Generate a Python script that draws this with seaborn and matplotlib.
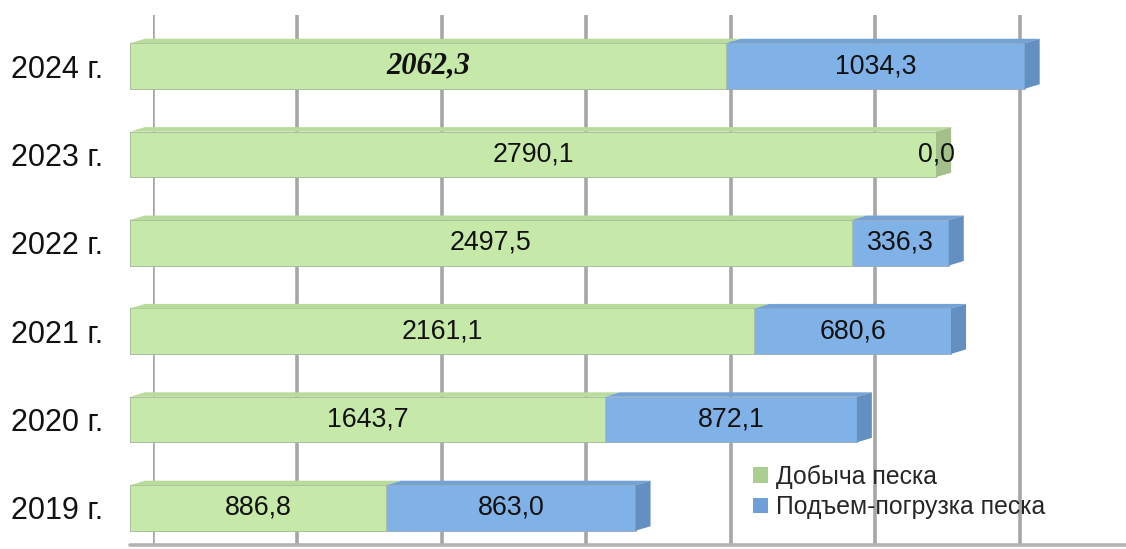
import matplotlib
matplotlib.use("Agg")
import matplotlib.pyplot as plt
import seaborn as sns
import numpy as np
from matplotlib.patches import Patch, Polygon
from matplotlib.lines import Line2D

# ---- data ----
years = ["2024 г.", "2023 г.", "2022 г.", "2021 г.", "2020 г.", "2019 г."]
dobycha = [2062.3, 2790.1, 2497.5, 2161.1, 1643.7, 886.8]
podem = [1034.3, 0.0, 336.3, 680.6, 872.1, 863.0]
series_names = ["Добыча песка", "Подъем-погрузка песка"]
grid_ticks = [0, 500, 1000, 1500, 2000, 2500, 3000]

totals = [a + b for a, b in zip(dobycha, podem)]

sns.set_theme(style="white")
plt.rcParams['font.family'] = ['Liberation Sans', 'DejaVu Sans']

W, H = 1126, 549
fig = plt.figure(figsize=(W / 100, H / 100), dpi=100)

green = "#c6e9aa"
green_side = "#a3c08a"
green_top = "#b9dc9c"
blue = "#80b2e8"
blue_side = "#6390c0"
blue_top = "#73a3d6"
grid_col = "#a6a6a6"

XMAX = 3250
axw = 939
y_top_px, y_bot_px = 15, 545
ylim = (5.419, -0.577)

# background wall with gridlines (shifted for 3D depth)
axb = fig.add_axes([153 / W, (H - y_bot_px) / H, axw / W, (y_bot_px - y_top_px) / H])
axb.set_xlim(0, XMAX)
axb.set_ylim(0, 1)
axb.set_xticks(grid_ticks)
axb.set_yticks([])
axb.tick_params(axis="x", length=0, labelbottom=False)
axb.grid(axis="x", color=grid_col, linewidth=2.6)
for s in axb.spines.values():
    s.set_visible(False)
axb.set_facecolor("white")

# floor line
fig.add_artist(Line2D([130 / W, 1.0], [(H - y_bot_px) / H] * 2, color="#b3b3b3", linewidth=2.6))

# front axes with bars
ax = fig.add_axes([130 / W, (H - y_bot_px) / H, axw / W, (y_bot_px - y_top_px) / H])
ax.patch.set_alpha(0)

bar_h = 0.515
sns.barplot(x=totals, y=years, orient="h", color=blue, saturation=1, width=bar_h,
            edgecolor="#9aa7b5", linewidth=0.6, ax=ax)
sns.barplot(x=dobycha, y=years, orient="h", color=green, saturation=1, width=bar_h,
            edgecolor="#aabd9c", linewidth=0.6, ax=ax)

ax.set_xlim(0, XMAX)
ax.set_ylim(*ylim)

# 3D faces derived from bar data
px_x = XMAX / axw
px_y = (ylim[0] - ylim[1]) / (y_bot_px - y_top_px)
dx = 15 * px_x
dy = 4.5 * px_y
for i, (g, b) in enumerate(zip(dobycha, podem)):
    t = g + b
    ytop = i - bar_h / 2
    ybot = i + bar_h / 2
    ax.add_patch(Polygon([(0, ytop), (dx, ytop - dy), (g + dx, ytop - dy), (g, ytop)],
                         closed=True, facecolor=green_top, edgecolor="none", zorder=1.5))
    if b > 0:
        ax.add_patch(Polygon([(g, ytop), (g + dx, ytop - dy), (t + dx, ytop - dy), (t, ytop)],
                             closed=True, facecolor=blue_top, edgecolor="none", zorder=1.5))
    side = blue_side if b > 0 else green_side
    ax.add_patch(Polygon([(t, ytop), (t + dx, ytop - dy), (t + dx, ybot - dy), (t, ybot)],
                         closed=True, facecolor=side, edgecolor="none", zorder=1.5))

# value labels
def fmt(v):
    return f"{v:.1f}".replace(".", ",")

for i, (g, b) in enumerate(zip(dobycha, podem)):
    if i == 0:
        ax.text(g / 2, i, fmt(g), ha="center", va="center", fontsize=22,
                family="Liberation Serif", fontweight="bold", fontstyle="italic", color="#111111", zorder=5)
    else:
        ax.text(g / 2, i, fmt(g), ha="center", va="center", fontsize=19.3, color="#111111", zorder=5)
    ax.text(g + b / 2, i, fmt(b), ha="center", va="center", fontsize=19.3, color="#111111", zorder=5)

ax.set_xlabel("")
ax.set_ylabel("")
ax.set_xticks([])
ax.tick_params(axis="y", length=0, pad=19.5, labelsize=22, labelcolor="#111111")
for s in ax.spines.values():
    s.set_visible(False)

handles = [Patch(facecolor="#a9d08e", edgecolor="none"), Patch(facecolor="#6f9fd8", edgecolor="none")]
fig.legend(handles, series_names, loc="center left", bbox_to_anchor=(753 / W, 1 - 492 / H),
           frameon=False, fontsize=17.8, handlelength=0.6, handleheight=0.6,
           handletextpad=0.32, labelspacing=0.25, borderpad=0, borderaxespad=0)

fig.savefig("out.png", dpi=100)
